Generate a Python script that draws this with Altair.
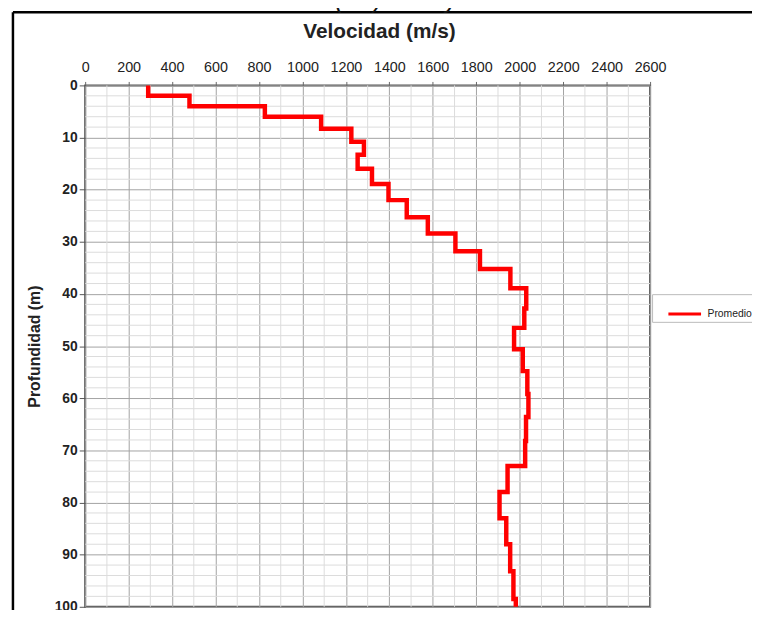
import altair as alt
import pandas as pd

# ---- data ----
layer_top = [0, 2, 4, 6, 8.3, 10.8, 13.3, 16, 18.9, 22, 25.3, 28.4, 31.8, 35.2,
             38.9, 42.8, 46.5, 50.6, 54.8, 59.2, 63.6, 68.2, 73, 78, 83, 88, 93.2, 98.5]
max_depth = 100
velocity = [290, 480, 827, 1086, 1225, 1283, 1254, 1320, 1396, 1480, 1577, 1704, 1817, 1957,
            2030, 2021, 1974, 2014, 2035, 2040, 2029, 2025, 1944, 1907, 1938, 1956, 1971, 1982]
series_name = "Promedio"
x_ticks = list(range(0, 2601, 200))
x_minor = [v for v in range(0, 2601, 100) if v % 200]
y_ticks = list(range(0, 101, 10))
y_minor = [d for d in range(0, 101, 2) if d % 10]
chart_title = "Velocidad de onda de corte (Vs) ensayo MAM"

layer_bottom = layer_top[1:] + [max_depth]
rows = []
for i, (v, t, b) in enumerate(zip(velocity, layer_top, layer_bottom)):
    rows.append({"vel": v, "depth": t, "ord": 2 * i, "serie": series_name})
    rows.append({"vel": v, "depth": b, "ord": 2 * i + 1, "serie": series_name})
df = pd.DataFrame(rows)

FONT = "Liberation Sans"
xscale = alt.Scale(domain=[0, 2600], nice=False, zero=False)
yscale = alt.Scale(domain=[0, 100], reverse=True, nice=False, zero=False)

x_axis = alt.Axis(
    orient="top", values=x_ticks, format="d", title="Velocidad (m/s)", grid=True,
    gridColor="#a2a2a2", gridWidth=1, domain=False, ticks=True,
    tickSize=4, tickColor="#666", labelFontSize=14.5, labelColor="#222",
    labelFont=FONT, labelPadding=7, labelFlush=False, labelOverlap=False,
    titleFont=FONT, titleFontSize=21, titleFontWeight="bold", titleColor="#222",
    titlePadding=18, titleX=297, titleAlign="center", titleAnchor="start")
y_axis = alt.Axis(
    values=y_ticks, format="d", title="Profundidad (m)", grid=True,
    gridColor="#a2a2a2", gridWidth=1, domain=False, ticks=True,
    tickSize=6, tickColor="#555", labelFontSize=14, labelFontWeight="bold",
    labelColor="#222", labelFont=FONT, labelPadding=2, labelFlush=False,
    labelOverlap=False, titleFont=FONT, titleFontSize=16, titleFontWeight="bold",
    titleColor="#222", titlePadding=12)

minor_x = alt.Chart(pd.DataFrame({"vel": x_minor})).mark_rule(
    color="#dcdcdc", strokeWidth=1
).encode(x=alt.X("vel:Q", scale=xscale, axis=x_axis))

minor_y = alt.Chart(pd.DataFrame({"depth": y_minor})).mark_rule(
    color="#dcdcdc", strokeWidth=1
).encode(y=alt.Y("depth:Q", scale=yscale, axis=y_axis))

line = alt.Chart(df).mark_line(
    strokeWidth=4.5, strokeJoin="miter", strokeCap="butt"
).encode(
    x=alt.X("vel:Q", scale=xscale, axis=x_axis),
    y=alt.Y("depth:Q", scale=yscale, axis=y_axis),
    order="ord:Q",
    color=alt.Color("serie:N", scale=alt.Scale(domain=[series_name], range=["#ff0000"]),
                    legend=alt.Legend(
                        title=None, orient="none", legendX=573, legendY=211,
                        symbolType="stroke", symbolStrokeWidth=3, symbolSize=1089,
                        symbolOffset=13, labelOffset=5, labelFontSize=10.5, labelFont=FONT,
                        labelColor="#222", padding=2, strokeColor="#bbbbbb",
                        labelExpr="datum.label + '          '",
                        fillColor="white")),
)

one = pd.DataFrame({"a": [0]})
border_left = alt.Chart(one).mark_rule(color="black", strokeWidth=2.5).encode(
    x=alt.value(-73), y=alt.value(-74), y2=alt.value(540))
border_top = alt.Chart(one).mark_rule(color="black", strokeWidth=2.5).encode(
    x=alt.value(-73), x2=alt.value(700), y=alt.value(-74))

title_text = alt.Chart(pd.DataFrame({"t": [chart_title]})).mark_text(
    align="right", baseline="alphabetic", fontSize=26, fontStyle="italic",
    font=FONT, color="#111"
).encode(text="t:N", x=alt.value(459), y=alt.value(-78))

chart = alt.layer(minor_x, minor_y, line, border_left, border_top, title_text).properties(
    width=571, height=527,
    autosize=alt.AutoSizeParams(type="none"),
    padding={"left": 78, "top": 75, "right": 103, "bottom": 0},
).configure(font=FONT).configure_view(stroke="#555", strokeWidth=2)

chart.save("out.html", embed_options={"renderer": "svg", "actions": False})
